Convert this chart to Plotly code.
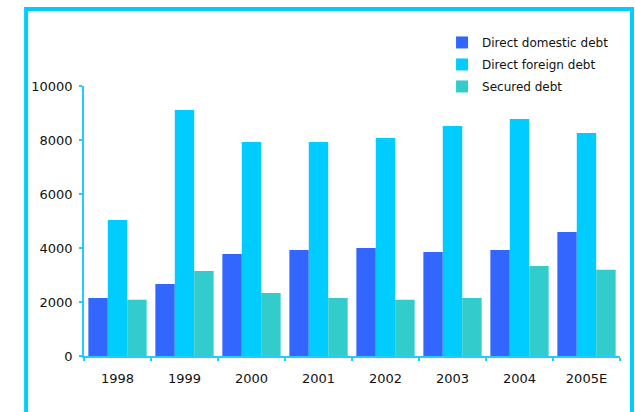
import plotly.graph_objects as go

years = ["1998", "1999", "2000", "2001", "2002", "2003", "2004", "2005E"]
domestic = [2150, 2670, 3780, 3930, 4000, 3850, 3930, 4590]
foreign = [5040, 9110, 7930, 7930, 8070, 8520, 8780, 8260]
secured = [2080, 3150, 2330, 2150, 2080, 2150, 3330, 3190]

series = [
    ("Direct domestic debt", domestic, "#3366FF"),
    ("Direct foreign debt", foreign, "#00CCFF"),
    ("Secured debt", secured, "#33CCCC"),
]

fig = go.Figure()
for i, (name, vals, color) in enumerate(series):
    fig.add_trace(go.Bar(
        x=years, y=vals, name=name, marker_color=color,
        marker_line_width=0, legendgroup=f"g{i}",
    ))

axis_color = "#22CCFF"
font = "DejaVu Sans, Verdana, sans-serif"

fig.update_layout(
    width=635, height=412,
    margin=dict(l=84, r=15, t=86, b=56, autoexpand=False),
    paper_bgcolor="white", plot_bgcolor="white",
    barmode="group", bargap=0.13, bargroupgap=0,
    font=dict(family=font, size=13, color="#111111"),
    showlegend=True,
    legend=dict(
        x=0.668, y=1.215, xanchor="left", yanchor="top",
        font=dict(size=12, color="#111111"),
        bgcolor="rgba(0,0,0,0)", tracegroupgap=3,
        itemclick=False, traceorder="grouped",
    ),
    xaxis=dict(
        showline=True, linecolor=axis_color, linewidth=1.5,
        ticks="outside", tickson="boundaries", ticklen=3,
        tickcolor=axis_color, tickwidth=1.5,
        showgrid=False, ticklabelstandoff=10,
        tickfont=dict(size=13),
    ),
    yaxis=dict(
        range=[0, 10000], dtick=2000, tick0=0, tickformat="d",
        showline=True, linecolor=axis_color, linewidth=1.5,
        ticks="outside", ticklen=3, tickcolor=axis_color, tickwidth=1.5,
        showgrid=False, zeroline=False, ticklabelstandoff=4,
        tickfont=dict(size=13),
    ),
    shapes=[dict(
        type="rect", xref="paper", yref="paper",
        x0=-0.108, x1=1.0224, y0=-0.3, y1=1.285,
        line=dict(color="#00CCFF", width=4), fillcolor="rgba(0,0,0,0)",
        layer="above",
    )],
)

fig.write_html("out.html")
